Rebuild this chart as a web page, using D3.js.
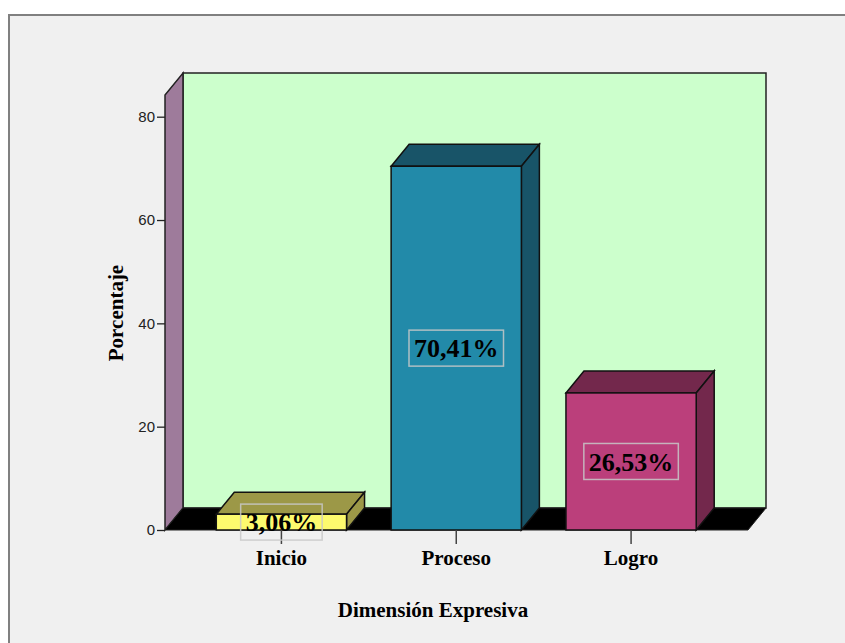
<!DOCTYPE html>
<html lang="es">
<head>
  <meta charset="UTF-8">
  <title>Dimensión Expresiva</title>
  <style>
    body { margin: 0; background: #fff; }
    .y-axis line, .y-axis path { stroke: #222; stroke-width: 1.3; }
    .x-axis line { stroke: #444; stroke-width: 1.5; }
    .x-axis path { display: none; }
  </style>
  <script src="https://cdn.jsdelivr.net/npm/d3@7"></script>
</head>
<body>
<script>
  // data
  var categories = ["Inicio", "Proceso", "Logro"];
  var percents = [3.06, 70.41, 26.53];
  var valueLabels = ["3,06%", "70,41%", "26,53%"];
  var yTicks = [0, 20, 40, 60, 80];

  var frontColors = ["#fdfa6e", "#228aa9", "#bb3f7b"];
  var darkColors = ["#9c9847", "#185468", "#73284c"];

  var serif = "'Liberation Serif', 'Times New Roman', Times, serif";
  var sans = "'Liberation Sans', Arial, sans-serif";

  var W = 845, H = 643;
  var depthX = 18, depthY = 22;
  var left = 165, right = 748, base = 530;

  var svg = d3.select("body").append("svg")
      .attr("width", W)
      .attr("height", H);

  // outer frame
  svg.append("rect")
      .attr("x", 9).attr("y", 15)
      .attr("width", W).attr("height", H)
      .attr("fill", "#f0f0f0")
      .attr("stroke", "#808080")
      .attr("stroke-width", 2);

  var y = d3.scaleLinear().domain([0, 84.2]).range([base, 95]);
  var x = d3.scaleBand().domain(categories)
      .range([194, 718.5])
      .paddingInner(0.255)
      .paddingOuter(0.1275);

  var line = d3.line();

  // back wall
  svg.append("rect")
      .attr("x", left + depthX).attr("y", y(84.2) - depthY)
      .attr("width", right - left).attr("height", base - y(84.2))
      .attr("fill", "#ccffcc")
      .attr("stroke", "#222").attr("stroke-width", 1.5);

  // left wall
  svg.append("path")
      .attr("d", line([[left, base], [left, y(84.2)], [left + depthX, y(84.2) - depthY], [left + depthX, base - depthY]]) + "Z")
      .attr("fill", "#9e7b9b")
      .attr("stroke", "#222").attr("stroke-width", 1.5);

  // floor
  svg.append("path")
      .attr("d", line([[left, base], [right, base], [right + depthX, base - depthY], [left + depthX, base - depthY]]) + "Z")
      .attr("fill", "#000")
      .attr("stroke", "#222").attr("stroke-width", 1);

  // bars
  var bars = svg.selectAll(".bar")
      .data(categories)
    .enter().append("g")
      .attr("class", "bar");

  bars.each(function(c, i) {
    var g = d3.select(this);
    var x0 = x(c), x1 = x(c) + x.bandwidth(), yt = y(percents[i]);
    g.append("path") // top
        .attr("d", line([[x0, yt], [x0 + depthX, yt - depthY], [x1 + depthX, yt - depthY], [x1, yt]]) + "Z")
        .attr("fill", darkColors[i]).attr("stroke", "#111").attr("stroke-width", 1.5);
    g.append("path") // side
        .attr("d", line([[x1, yt], [x1 + depthX, yt - depthY], [x1 + depthX, base - depthY], [x1, base]]) + "Z")
        .attr("fill", darkColors[i]).attr("stroke", "#111").attr("stroke-width", 1.5);
    g.append("rect") // front
        .attr("x", x0).attr("y", yt)
        .attr("width", x1 - x0).attr("height", base - yt)
        .attr("fill", frontColors[i]).attr("stroke", "#111").attr("stroke-width", 1.5);
  });

  // y axis
  var yAxis = svg.append("g")
      .attr("class", "y-axis")
      .attr("transform", "translate(" + left + ",0)")
      .call(d3.axisLeft(y).tickValues(yTicks).tickSize(8).tickPadding(2).tickSizeOuter(0));
  yAxis.select(".domain").remove();
  yAxis.selectAll("text")
      .style("font-family", sans).style("font-size", "15px").style("fill", "#222");

  // x axis
  var xAxis = svg.append("g")
      .attr("class", "x-axis")
      .attr("transform", "translate(0," + base + ")")
      .call(d3.axisBottom(x).tickSize(14).tickPadding(6));
  xAxis.selectAll("text")
      .style("font-family", serif).style("font-weight", "bold")
      .style("font-size", "21px").style("fill", "#000");

  // value labels
  var labels = svg.selectAll(".label")
      .data(categories)
    .enter().append("g")
      .attr("class", "label")
      .attr("transform", function(c, i) {
        return "translate(" + (x(c) + x.bandwidth() / 2) + "," + ((y(percents[i]) + base) / 2) + ")";
      });

  labels.append("text")
      .attr("text-anchor", "middle")
      .attr("dy", "0.35em")
      .style("font-family", serif).style("font-weight", "bold")
      .style("font-size", "26px").style("fill", "#000")
      .text(function(c, i) { return valueLabels[i]; });

  labels.each(function() {
    var g = d3.select(this);
    var bb = g.select("text").node().getBBox();
    g.insert("rect", "text")
        .attr("x", bb.x - 5).attr("y", -18)
        .attr("width", bb.width + 10).attr("height", 36)
        .attr("fill", "none")
        .attr("stroke", "#c8c8c8")
        .attr("stroke-opacity", 0.85)
        .attr("stroke-width", 1.5);
  });

  // axis titles
  svg.append("text")
      .attr("transform", "translate(123,313) rotate(-90)")
      .attr("text-anchor", "middle")
      .style("font-family", serif).style("font-weight", "bold").style("font-size", "21px")
      .text("Porcentaje");

  svg.append("text")
      .attr("x", 433).attr("y", 617)
      .attr("text-anchor", "middle")
      .style("font-family", serif).style("font-weight", "bold").style("font-size", "21px")
      .text("Dimensión Expresiva");
</script>
</body>
</html>
